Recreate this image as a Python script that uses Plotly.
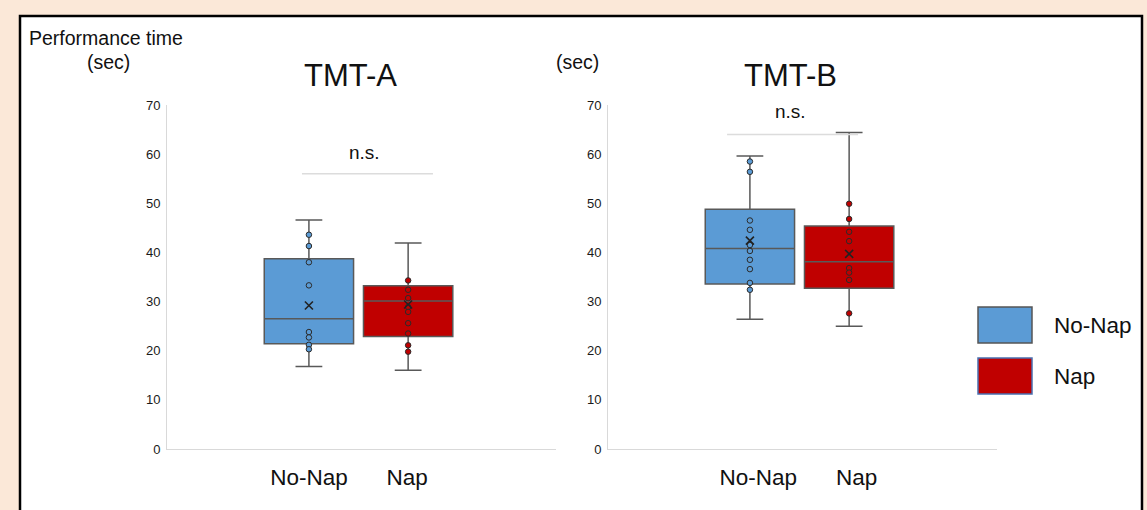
import plotly.graph_objects as go

W, H = 1147, 510

categories = ["No-Nap", "Nap"]
y_ticks = [0, 10, 20, 30, 40, 50, 60, 70]

# TMT-A box statistics [No-Nap, Nap]
a_q1 = [21.4, 22.9]
a_median = [26.5, 30.1]
a_q3 = [38.7, 33.2]
a_low = [16.8, 16.0]
a_high = [46.6, 41.9]
a_mean = [29.2, 29.4]
a_nonap_points = [43.6, 41.3, 38.0, 33.3, 23.8, 22.7, 21.2, 20.3]
a_nap_points = [34.3, 32.4, 30.7, 28.9, 27.9, 25.6, 23.5, 21.1, 19.8]

# TMT-B box statistics [No-Nap, Nap]
b_q1 = [33.6, 32.7]
b_median = [40.8, 38.1]
b_q3 = [48.8, 45.4]
b_low = [26.4, 25.0]
b_high = [59.6, 64.4]
b_mean = [42.4, 39.7]
b_nonap_points = [58.5, 56.4, 46.5, 44.6, 41.5, 40.3, 38.5, 36.6, 33.8, 32.4]
b_nap_points = [49.9, 46.8, 44.2, 42.3, 36.8, 35.9, 34.4, 27.6]

sig_label = "n.s."

BLUE = "#5B9BD5"
RED = "#C00000"
FONT = "Liberation Sans, Arial, sans-serif"


def px(x):
    return x / W


def py(y):
    return 1 - y / H


fig = go.Figure()

panels = [
    ("x", "y", a_q1, a_median, a_q3, a_low, a_high, a_mean, a_nonap_points, a_nap_points),
    ("x2", "y2", b_q1, b_median, b_q3, b_low, b_high, b_mean, b_nonap_points, b_nap_points),
]
colors = [BLUE, RED]

for xa, ya, q1, med, q3, lo, hi, mn, p0, p1 in panels:
    pts = [p0, p1]
    for i, cat in enumerate(categories):
        fig.add_trace(go.Box(
            x=[i], q1=[q1[i]], median=[med[i]], q3=[q3[i]],
            lowerfence=[lo[i]], upperfence=[hi[i]],
            width=0.9, whiskerwidth=0.3,
            fillcolor=colors[i], line=dict(color="#595959", width=1.5),
            boxpoints=False, xaxis=xa, yaxis=ya, showlegend=False,
        ))
        fig.add_trace(go.Scatter(
            x=[i] * len(pts[i]), y=pts[i], mode="markers",
            marker=dict(size=5.5, color=colors[i], line=dict(color="#2b2b2b", width=1)),
            xaxis=xa, yaxis=ya, showlegend=False,
        ))
        fig.add_trace(go.Scatter(
            x=[i], y=[mn[i]], mode="markers",
            marker=dict(size=8, symbol="x-thin", line=dict(color="#222222", width=1.6)),
            xaxis=xa, yaxis=ya, showlegend=False,
        ))

axis_common_x = dict(
    range=[-1.43, 2.49], tickmode="array", ticktext=categories,
    showline=True, linecolor="#d9d9d9", linewidth=1, showgrid=False, zeroline=False,
    ticks="", ticklabelstandoff=8,
    tickfont=dict(size=22.5, color="#111111", family=FONT), fixedrange=True,
)
axis_common_y = dict(
    range=[0, 70], tickmode="array", tickvals=y_ticks,
    showline=True, linecolor="#d9d9d9", linewidth=1, showgrid=False, zeroline=False,
    ticks="", ticklabelstandoff=3,
    tickfont=dict(size=13, color="#1a1a1a", family=FONT), fixedrange=True,
)

fig.update_layout(
    width=W, height=H, margin=dict(l=0, r=0, t=0, b=0, pad=0, autoexpand=False),
    paper_bgcolor="#FBE8D8", plot_bgcolor="rgba(0,0,0,0)",
    font=dict(family=FONT, color="#111111"),
    xaxis=dict(domain=[px(167), px(556)], anchor="y", tickvals=[0, 0.99], **axis_common_x),
    yaxis=dict(domain=[py(449), py(105)], anchor="x", **axis_common_y),
    xaxis2=dict(domain=[px(608), px(997)], anchor="y2", tickvals=[0.085, 1.075], **axis_common_x),
    yaxis2=dict(domain=[py(449), py(105)], anchor="x2", **axis_common_y),
    showlegend=False,
)

# White framed panel
fig.add_shape(type="rect", xref="paper", yref="paper",
              x0=px(20), x1=px(1142), y0=-0.1, y1=py(16),
              fillcolor="white", line=dict(color="black", width=2.5), layer="below")

# Significance lines
fig.add_shape(type="line", xref="x", yref="y", x0=-0.07, x1=1.25, y0=56.0, y1=56.0,
              line=dict(color="#dcdcdc", width=1.5))
fig.add_shape(type="line", xref="x2", yref="y2", x0=-0.23, x1=1.09, y0=64.0, y1=64.0,
              line=dict(color="#dcdcdc", width=1.5))
fig.add_annotation(x=0.56, y=60.4, xref="x", yref="y", text=sig_label, showarrow=False,
                   font=dict(size=19, color="#111111"))
fig.add_annotation(x=0.41, y=68.6, xref="x2", yref="y2", text=sig_label, showarrow=False,
                   font=dict(size=19, color="#111111"))

# Titles and axis labels
texts = [
    ("Performance time", 106, 38, 19.5),
    ("(sec)", 108, 62, 19.5),
    ("(sec)", 577, 62, 19.5),
    ("TMT-A", 350, 75, 31),
    ("TMT-B", 790, 75, 31),
]
for t, x, y, s in texts:
    fig.add_annotation(x=px(x), y=py(y), xref="paper", yref="paper", text=t,
                       showarrow=False, font=dict(size=s, color="#111111"),
                       xanchor="center", yanchor="middle")

# Legend
legend_items = [("No-Nap", BLUE, "#555555", 307, 343), ("Nap", RED, "#4a6fb0", 358, 394)]
for name, fc, lc, y0, y1 in legend_items:
    fig.add_shape(type="rect", xref="paper", yref="paper",
                  x0=px(978), x1=px(1032), y0=py(y1), y1=py(y0),
                  fillcolor=fc, line=dict(color=lc, width=1.5))
    fig.add_annotation(x=px(1052), y=py((y0 + y1) / 2), xref="paper", yref="paper",
                       text=name, showarrow=False, xanchor="left", yanchor="middle",
                       font=dict(size=22.5, color="#111111"))

fig.write_html(
    "out.html",
    post_script="document.body.style.margin='0';document.body.style.overflow='hidden';",
    config={"displayModeBar": False},
)
